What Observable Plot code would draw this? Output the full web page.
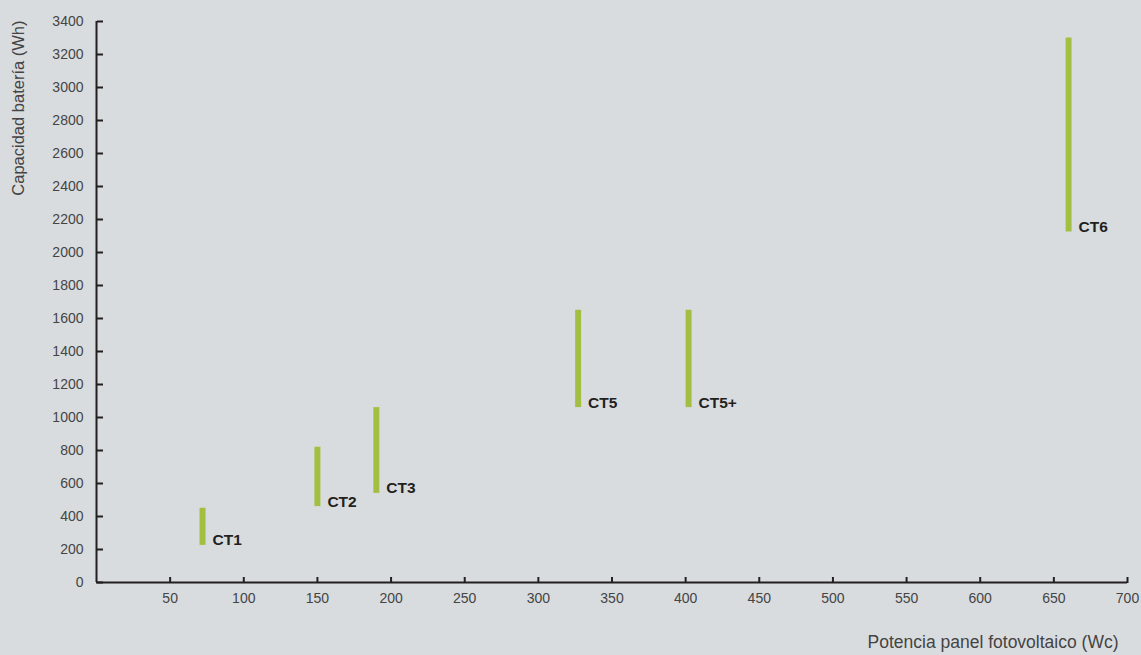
<!DOCTYPE html>
<html>
<head>
<meta charset="utf-8">
<script src="https://cdn.jsdelivr.net/npm/d3@7"></script>
<script src="https://cdn.jsdelivr.net/npm/@observablehq/plot@0.6"></script>
<style>
  html, body { margin: 0; padding: 0; background: #d9dcdf; }
  #chart svg { display: block; }
</style>
</head>
<body>
<div id="chart"></div>
<script>
// Data
const models = ["CT1", "CT2", "CT3", "CT5", "CT5+", "CT6"];
const panelPower = [72, 150, 190, 327, 402, 660];          // Wc
const batteryMin = [225, 460, 540, 1060, 1060, 2125];      // Wh
const batteryMax = [450, 820, 1060, 1650, 1650, 3300];     // Wh
const xTicks = [50, 100, 150, 200, 250, 300, 350, 400, 450, 500, 550, 600, 650, 700];
const yTicks = [0, 200, 400, 600, 800, 1000, 1200, 1400, 1600, 1800, 2000, 2200, 2400, 2600, 2800, 3000, 3200, 3400];
const xLabel = "Potencia panel fotovoltaico (Wc)";
const yLabel = "Capacidad batería (Wh)";

const data = models.map((m, i) => ({ name: m, x: panelPower[i], y1: batteryMin[i], y2: batteryMax[i] }));

const W = 1141, H = 655;
const mL = 96, mR = 14, mT = 21, mB = 73;
const frameW = W - mL - mR, frameH = H - mT - mB;
const axisColor = "#231f20";
const textColor = "#444";
const green = "#a3bf43";
const fmt = d3.format("d");

const chart = Plot.plot({
  width: W,
  height: H,
  marginLeft: mL,
  marginRight: mR,
  marginTop: mT,
  marginBottom: mB,
  style: { background: "#d9dcdf", fontFamily: "'Liberation Sans', Arial, sans-serif", overflow: "visible" },
  x: { domain: [0, 700] },
  y: { domain: [0, 3400] },
  marks: [
    // tick labels
    Plot.axisY({ anchor: "left", ticks: yTicks, tickFormat: fmt, tickSize: 0, tickPadding: 13, fontSize: 14, fill: textColor, label: null }),
    Plot.axisX({ anchor: "bottom", ticks: xTicks, tickFormat: fmt, tickSize: 0, tickPadding: 11, fontSize: 14, fill: textColor, label: null }),
    // inward ticks
    Plot.axisY({ anchor: "right", ticks: yTicks, tickSize: 6, tickFormat: () => "", dx: -frameW, stroke: axisColor, strokeWidth: 2, label: null }),
    Plot.axisX({ anchor: "top", ticks: xTicks, tickSize: 6, tickFormat: () => "", dy: frameH, stroke: axisColor, strokeWidth: 2, label: null }),
    // axis lines
    Plot.ruleX([0], { stroke: axisColor, strokeWidth: 2 }),
    Plot.ruleY([0], { stroke: axisColor, strokeWidth: 2 }),
    // ranges
    Plot.ruleX(data, { x: "x", y1: "y1", y2: "y2", stroke: green, strokeWidth: 6 }),
    Plot.text(data, { x: "x", y: "y1", text: "name", dx: 10, textAnchor: "start", lineAnchor: "bottom",
      fontSize: 15.5, fontWeight: "bold", fill: axisColor }),
    // axis titles
    Plot.text([yLabel], { text: d => d, frameAnchor: "top-left", dx: 18 - mL, dy: -1, rotate: -90,
      textAnchor: "end", lineAnchor: "middle", fontSize: 16.5, fill: textColor }),
    Plot.text([xLabel], { text: d => d, frameAnchor: "bottom-right", dx: -9, dy: 65,
      textAnchor: "end", lineAnchor: "bottom", fontSize: 17.5, fill: textColor })
  ]
});

document.getElementById("chart").appendChild(chart);
</script>
</body>
</html>
